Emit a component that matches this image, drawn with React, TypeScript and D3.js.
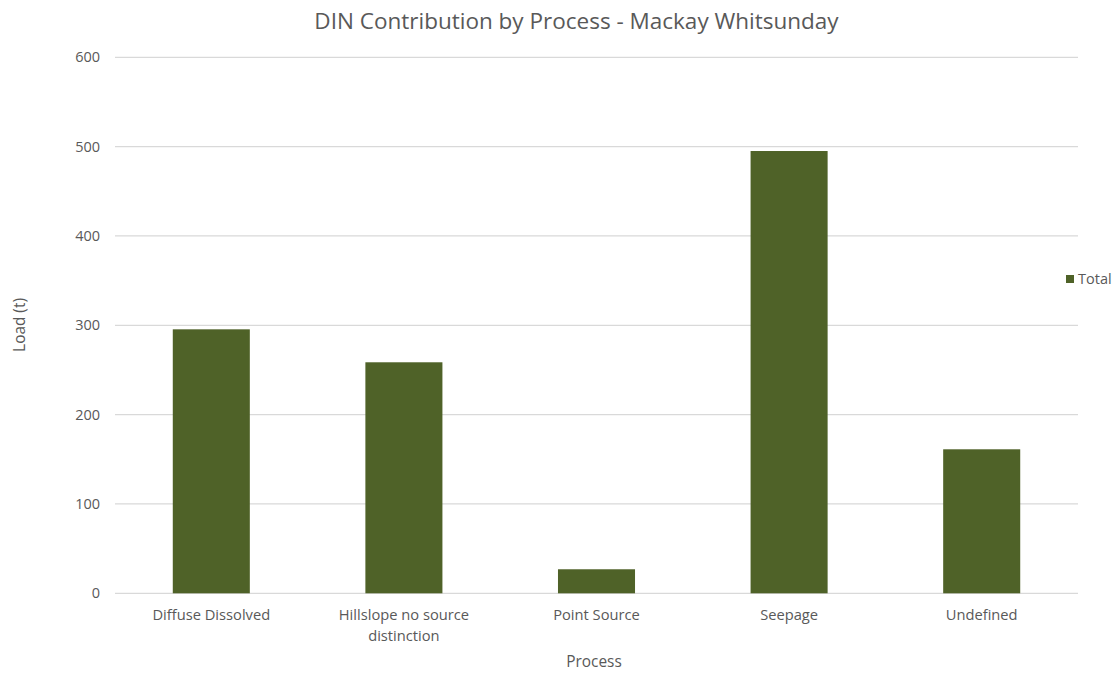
import React from "react";
import * as d3 from "d3";

const categories: string[][] = [
  ["Diffuse Dissolved"],
  ["Hillslope no source", "distinction"],
  ["Point Source"],
  ["Seepage"],
  ["Undefined"],
];
const values: number[] = [295.5, 258.6, 26.9, 495.1, 161.2];
const yTicks: number[] = [0, 100, 200, 300, 400, 500, 600];

const W = 1118;
const H = 675;
const left = 115;
const right = 1078;
const top = 57.3;
const bottom = 593.3;
const color = "#4f6228";
const textColor = "#595959";
const font = "'Open Sans', sans-serif";

export default function App() {
  const x = d3
    .scaleBand<number>()
    .domain(categories.map((_, i) => i))
    .range([left, right])
    .padding(0);
  const y = d3.scaleLinear().domain([0, 600]).range([bottom, top]);
  const bw = x.bandwidth() * 0.4;

  return (
    <svg
      width={W}
      height={H}
      style={{ position: "absolute", left: 0, top: 0, background: "#fff" }}
      fontFamily={font}
    >
      <rect x={0} y={0} width={W} height={H} fill="#fff" />
      <text x={576.5} y={29} textAnchor="middle" fontSize={22.5} fill={textColor}>
        DIN Contribution by Process - Mackay Whitsunday
      </text>
      {yTicks.map((t) => (
        <g key={t}>
          <line
            x1={left}
            x2={right}
            y1={y(t)}
            y2={y(t)}
            stroke="#d9d9d9"
            strokeWidth={1.3}
          />
          <text
            x={100}
            y={y(t)}
            dy="0.35em"
            textAnchor="end"
            fontSize={14.5}
            fill={textColor}
          >
            {t}
          </text>
        </g>
      ))}
      {values.map((v, i) => (
        <rect
          key={i}
          x={(x(i) as number) + x.bandwidth() / 2 - bw / 2}
          y={y(v)}
          width={bw}
          height={bottom - y(v)}
          fill={color}
        />
      ))}
      {categories.map((lines, i) => (
        <text
          key={i}
          x={(x(i) as number) + x.bandwidth() / 2}
          y={620}
          textAnchor="middle"
          fontSize={14.7}
          fill={textColor}
        >
          {lines.map((l, j) => (
            <tspan key={j} x={(x(i) as number) + x.bandwidth() / 2} dy={j === 0 ? 0 : 20.5}>
              {l}
            </tspan>
          ))}
        </text>
      ))}
      <text x={594} y={667} textAnchor="middle" fontSize={15.4} fill={textColor}>
        Process
      </text>
      <text
        transform={`translate(25,325) rotate(-90)`}
        textAnchor="middle"
        fontSize={15.4}
        fill={textColor}
      >
        Load (t)
      </text>
      <rect x={1066} y={275} width={8} height={8} fill={color} />
      <text x={1078} y={279} dy="0.35em" fontSize={14.5} fill={textColor}>
        Total
      </text>
    </svg>
  );
}
